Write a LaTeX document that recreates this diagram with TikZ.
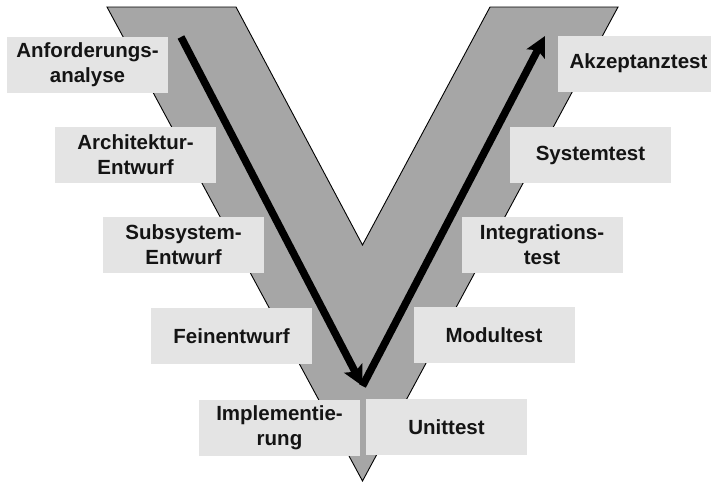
\documentclass[tikz,border=0pt]{standalone}
\usepackage{fontspec}
\setmainfont{Liberation Sans}
\usetikzlibrary{arrows.meta}
\definecolor{vgray}{HTML}{A6A6A6}
\definecolor{boxgray}{HTML}{E4E4E4}
\definecolor{ink}{HTML}{141414}
\begin{document}
\begin{tikzpicture}[x=1pt,y=-1pt,
  phase/.style={fill=boxgray, draw=none, minimum width=161pt, minimum height=56pt,
    inner sep=0pt, align=center, text=ink,
    font=\fontsize{20.5}{25}\selectfont\bfseries},
  flow/.style={line width=7.5pt, draw=black,
    -{Stealth[length=20pt,width=20pt,inset=4pt]}}]
  \useasboundingbox (0,0) rectangle (711,483);
  % the V shape
  \draw[fill=vgray, line width=0.9pt]
    (107,7) -- (236,7) -- (362.5,245) -- (490,7) -- (618,7) -- (362.5,481) -- cycle;
  % specification phases (left arm)
  \node[phase] (anf) at (87.5,64.5)  {Anforderungs-\\analyse};
  \node[phase] (arc) at (135.5,155)  {Architektur-\\Entwurf};
  \node[phase] (sub) at (183.5,245)  {Subsystem-\\Entwurf};
  \node[phase] (fein) at (231.5,336) {Feinentwurf};
  \node[phase] (impl) at (279.5,427.5) {Implementie-\\rung};
  % test phases (right arm)
  \node[phase] (unit) at (446.5,427) {Unittest};
  \node[phase] (mod) at (494,335)   {Modultest};
  \node[phase] (int) at (542,245)   {Integrations-\\test};
  \node[phase] (sys) at (590.5,155) {Systemtest};
  \node[phase] (akz) at (638.5,63.5) {Akzeptanztest};
  % flow arrows
  \coordinate (start) at (181,37);
  \coordinate (bottom) at (362.5,386);
  \coordinate (top) at (545,36);
  \draw[flow] (start) -- (bottom);
  \draw[flow] (bottom) -- (top);
\end{tikzpicture}
\end{document}
